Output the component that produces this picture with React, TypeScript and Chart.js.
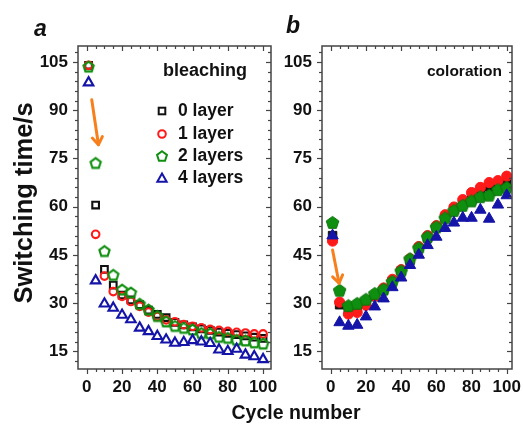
import React, { useEffect, useRef } from 'react';
import { Chart, registerables } from 'chart.js';

Chart.register(...registerables);

// ---------- data ----------
const cycles = [1, 5, 10, 15, 20, 25, 30, 35, 40, 45, 50, 55, 60, 65, 70, 75, 80, 85, 90, 95, 100];

const bleach0 = [104.0, 60.5, 40.5, 35.6, 32.5, 31.0, 29.5, 27.8, 26.5, 25.5, 24.0, 23.2, 22.6, 22.0, 21.5, 21.0, 20.6, 20.2, 19.8, 19.4, 19.0];
const bleach1 = [104.0, 51.4, 38.4, 33.6, 32.1, 30.5, 29.0, 27.2, 25.8, 24.8, 24.2, 23.3, 22.8, 22.3, 21.8, 21.5, 21.2, 20.9, 20.7, 20.4, 20.4];
const bleach2 = [103.6, 73.6, 46.2, 38.8, 34.2, 33.3, 29.8, 28.0, 26.0, 24.3, 22.9, 22.3, 21.8, 20.7, 20.6, 19.5, 19.2, 18.6, 18.4, 17.8, 17.4];
const bleach4 = [98.6, 37.0, 29.8, 28.5, 26.3, 24.9, 22.3, 21.2, 19.7, 18.6, 17.6, 17.8, 18.4, 18.0, 17.5, 15.5, 15.0, 15.7, 13.9, 13.4, 12.5];

const color0 = [51.0, 29.5, 27.5, 28.0, 30.0, 32.0, 34.0, 36.8, 40.0, 43.3, 47.0, 50.3, 53.5, 56.6, 59.0, 61.2, 63.2, 65.0, 66.2, 67.0, 68.2];
const color1 = [49.3, 30.3, 26.6, 27.1, 29.3, 32.2, 34.7, 37.4, 40.4, 43.8, 47.6, 51.0, 54.1, 57.5, 59.9, 62.2, 64.4, 66.0, 67.5, 68.1, 69.5];
const color2 = [55.1, 34.0, 29.2, 29.9, 31.2, 33.0, 34.3, 36.7, 40.0, 43.8, 47.2, 50.6, 53.7, 56.5, 58.8, 60.4, 61.8, 63.1, 63.6, 65.3, 66.0];
const color4 = [51.0, 24.0, 22.9, 23.2, 25.8, 28.9, 31.4, 34.9, 37.9, 41.8, 45.0, 48.0, 50.6, 53.3, 55.0, 56.5, 56.5, 59.0, 56.2, 60.6, 63.5];

const seriesNames = ['0 layer', '1 layer', '2 layers', '4 layers'];
const xTickLabels = [0, 20, 40, 60, 80, 100];
const yTickLabels = [15, 30, 45, 60, 75, 90, 105];

// arrows in data coordinates: [from, to]
const arrowBleach = [[2.8, 93.3], [6.6, 79.3]];
const arrowColor = [[1.0, 46.5], [4.7, 36.2]];

// ---------- styles ----------
const FONT = '"Liberation Sans", Arial, sans-serif';
const C_BLACK = '#111111';
const C_RED = '#ff1a1a';
const C_GREEN = '#0f8f0f';
const C_BLUE = '#1414a8';
const C_ORANGE = '#f7801c';
const C_FRAME = '#444444';

function makePentagon(r: number, fill: string | null, stroke: string, lw: number) {
  const size = Math.ceil(2 * r + lw + 4);
  const c = document.createElement('canvas');
  c.width = size;
  c.height = size;
  const ctx = c.getContext('2d')!;
  const cx = size / 2, cy = size / 2 + 0.5;
  ctx.beginPath();
  for (let k = 0; k < 5; k++) {
    const a = -Math.PI / 2 + (k * 2 * Math.PI) / 5;
    const px = cx + r * Math.cos(a), py = cy + r * Math.sin(a);
    if (k === 0) ctx.moveTo(px, py); else ctx.lineTo(px, py);
  }
  ctx.closePath();
  if (fill) { ctx.fillStyle = fill; ctx.fill(); }
  ctx.strokeStyle = stroke;
  ctx.lineWidth = lw;
  ctx.lineJoin = 'miter';
  ctx.stroke();
  return c;
}

function framePlugin(arrow: number[][]) {
  return {
    id: 'frameTicks',
    afterDatasetsDraw(chart: any) {
      const { ctx, chartArea: a, scales } = chart;
      const x = scales.x, y = scales.y;
      ctx.save();
      ctx.strokeStyle = C_FRAME;
      ctx.lineWidth = 1.5;
      ctx.strokeRect(a.left, a.top, a.right - a.left, a.bottom - a.top);
      ctx.lineWidth = 1.2;
      const line = (x1: number, y1: number, x2: number, y2: number) => {
        ctx.beginPath(); ctx.moveTo(x1, y1); ctx.lineTo(x2, y2); ctx.stroke();
      };
      for (let v = 0; v <= 100; v += 5) {
        const px = Math.round(x.getPixelForValue(v)) + 0.5;
        const L = v % 20 === 0 ? 5 : 3;
        line(px, a.bottom, px, a.bottom + L);
        line(px, a.top, px, a.top + L);
      }
      for (let v = 12; v <= 108; v += 3) {
        const py = Math.round(y.getPixelForValue(v)) + 0.5;
        const L = v % 15 === 0 ? 5 : 3;
        line(a.left - L, py, a.left, py);
        line(a.right - L, py, a.right, py);
      }
      // arrow
      const x1 = x.getPixelForValue(arrow[0][0]), y1 = y.getPixelForValue(arrow[0][1]);
      const x2 = x.getPixelForValue(arrow[1][0]), y2 = y.getPixelForValue(arrow[1][1]);
      ctx.strokeStyle = C_ORANGE;
      ctx.lineWidth = 3;
      ctx.lineCap = 'round';
      ctx.lineJoin = 'round';
      line(x1, y1, x2, y2);
      const ang = Math.atan2(y2 - y1, x2 - x1);
      const hl = 9, ha = 0.6;
      ctx.beginPath();
      ctx.moveTo(x2 - hl * Math.cos(ang - ha), y2 - hl * Math.sin(ang - ha));
      ctx.lineTo(x2, y2);
      ctx.lineTo(x2 - hl * Math.cos(ang + ha), y2 - hl * Math.sin(ang + ha));
      ctx.stroke();
      ctx.restore();
    },
  };
}

function makeOptions(xMax: number, yWidth: number, padRight: number) {
  const tickFont = { family: FONT, size: 17, weight: 'bold' as const };
  return {
    animation: false as const,
    responsive: false,
    maintainAspectRatio: false,
    layout: { padding: { left: 0, top: 46, right: padRight, bottom: 0 } },
    plugins: { legend: { display: false }, tooltip: { enabled: false } },
    scales: {
      x: {
        type: 'linear' as const,
        min: -5,
        max: xMax,
        grid: { display: false },
        border: { display: false },
        afterBuildTicks: (s: any) => { s.ticks = xTickLabels.map((v) => ({ value: v })); },
        afterFit: (s: any) => { s.height = 56; s.paddingLeft = 0; s.paddingRight = 0; },
        ticks: { font: tickFont, color: '#111', padding: 0, maxRotation: 0, autoSkip: false },
      },
      y: {
        type: 'linear' as const,
        min: 9.5,
        max: 110,
        grid: { display: false },
        border: { display: false },
        afterBuildTicks: (s: any) => { s.ticks = yTickLabels.map((v) => ({ value: v })); },
        afterFit: (s: any) => { s.width = yWidth; s.paddingTop = 0; s.paddingBottom = 0; },
        ticks: { font: tickFont, color: '#111', padding: 2, autoSkip: false },
      },
    },
  };
}

function pts(ys: number[]) {
  return cycles.map((c, i) => ({ x: c, y: ys[i] }));
}

const PANEL_A = { left: 0, width: 280, yWidth: 78, padRight: 9, xMax: 104.5 };
const PANEL_B = { left: 268, width: 255, yWidth: 54, padRight: 11, xMax: 103 };

function PanelChart(props: { kind: 'a' | 'b' }) {
  const ref = useRef<HTMLCanvasElement | null>(null);
  const P = props.kind === 'a' ? PANEL_A : PANEL_B;
  useEffect(() => {
    if (!ref.current) return;
    const isA = props.kind === 'a';
    const openPent = makePentagon(5.4, null, C_GREEN, 2.1);
    const fillPent = makePentagon(6.6, C_GREEN, '#0c720c', 1);
    const data = isA ? [bleach0, bleach1, bleach2, bleach4] : [color0, color1, color2, color4];
    const cols = [C_BLACK, C_RED, C_GREEN, C_BLUE];
    const styles: any[] = ['rect', 'circle', isA ? openPent : fillPent, 'triangle'];
    const radii = isA ? [4.7, 3.8, 6, 5.5] : [6, 5.1, 7, 6.6];
    const datasets = data.map((ys, i) => ({
      label: seriesNames[i],
      data: pts(ys),
      showLine: false,
      order: 4 - i,
      pointStyle: styles[i],
      pointRadius: radii[i],
      borderColor: cols[i],
      backgroundColor: isA ? 'rgba(0,0,0,0)' : cols[i],
      pointBorderColor: cols[i],
      pointBackgroundColor: isA ? 'rgba(0,0,0,0)' : cols[i],
      pointBorderWidth: isA ? 2.1 : 1,
    }));
    const chart = new Chart(ref.current, {
      type: 'scatter',
      data: { datasets },
      options: makeOptions(P.xMax, P.yWidth, P.padRight),
      plugins: [framePlugin(isA ? arrowBleach : arrowColor)],
    } as any);
    return () => chart.destroy();
  }, [props.kind]);
  return (
    <canvas
      ref={ref}
      width={P.width}
      height={425}
      style={{ position: 'absolute', left: P.left, top: 0, width: P.width, height: 425 }}
    />
  );
}

function Marker(props: { i: number }) {
  const s = 14, c = 7;
  const common = { fill: 'none', strokeWidth: 2 };
  if (props.i === 0) return <svg width={s} height={s}><rect x={c - 3.3} y={c - 3.3} width={6.6} height={6.6} stroke={C_BLACK} {...common} /></svg>;
  if (props.i === 1) return <svg width={s} height={s}><circle cx={c} cy={c} r={3.8} stroke={C_RED} {...common} /></svg>;
  if (props.i === 2) {
    const p = [0, 1, 2, 3, 4].map((k) => {
      const a = -Math.PI / 2 + (k * 2 * Math.PI) / 5;
      return `${c + 5.2 * Math.cos(a)},${c + 0.5 + 5.2 * Math.sin(a)}`;
    }).join(' ');
    return <svg width={s} height={s}><polygon points={p} stroke={C_GREEN} {...common} /></svg>;
  }
  const t = [0, 1, 2].map((k) => {
    const a = -Math.PI / 2 + (k * 2 * Math.PI) / 3;
    return `${c + 5.4 * Math.cos(a)},${c + 1 + 5.4 * Math.sin(a)}`;
  }).join(' ');
  return <svg width={s} height={s}><polygon points={t} stroke={C_BLUE} {...common} /></svg>;
}

export default function App() {
  const text = { position: 'absolute' as const, fontFamily: FONT, fontWeight: 'bold' as const, color: '#111', whiteSpace: 'nowrap' as const, lineHeight: 1 };
  const legendRows = [110.7, 134, 156, 178];
  return (
    <div style={{ position: 'fixed', left: 0, top: 0, width: 523, height: 425, background: '#fff', overflow: 'hidden' }}>
      <PanelChart kind="a" />
      <PanelChart kind="b" />
      <div style={{ ...text, left: 34, top: 17, fontSize: 23, fontStyle: 'italic' }}>a</div>
      <div style={{ ...text, left: 286, top: 14, fontSize: 23, fontStyle: 'italic' }}>b</div>
      <div style={{ ...text, left: 163, top: 61, fontSize: 18 }}>bleaching</div>
      <div style={{ ...text, left: 427, top: 63, fontSize: 15.5 }}>coloration</div>
      {seriesNames.map((n, i) => (
        <React.Fragment key={n}>
          <div style={{ position: 'absolute', left: 155, top: legendRows[i] - 7, width: 14, height: 14 }}>
            <Marker i={i} />
          </div>
          <div style={{ ...text, left: 178, top: legendRows[i] - 9, fontSize: 17.5 }}>{n}</div>
        </React.Fragment>
      ))}
      <div style={{ ...text, left: 296 - 100, width: 200, textAlign: 'center', top: 403, fontSize: 19.5 }}>Cycle number</div>
      <div
        style={{
          ...text,
          left: 24 - 150,
          top: 203 - 13,
          width: 300,
          height: 26,
          textAlign: 'center',
          fontSize: 25.5,
          transform: 'rotate(-90deg)',
          transformOrigin: '50% 50%',
        }}
      >
        Switching time/s
      </div>
    </div>
  );
}
